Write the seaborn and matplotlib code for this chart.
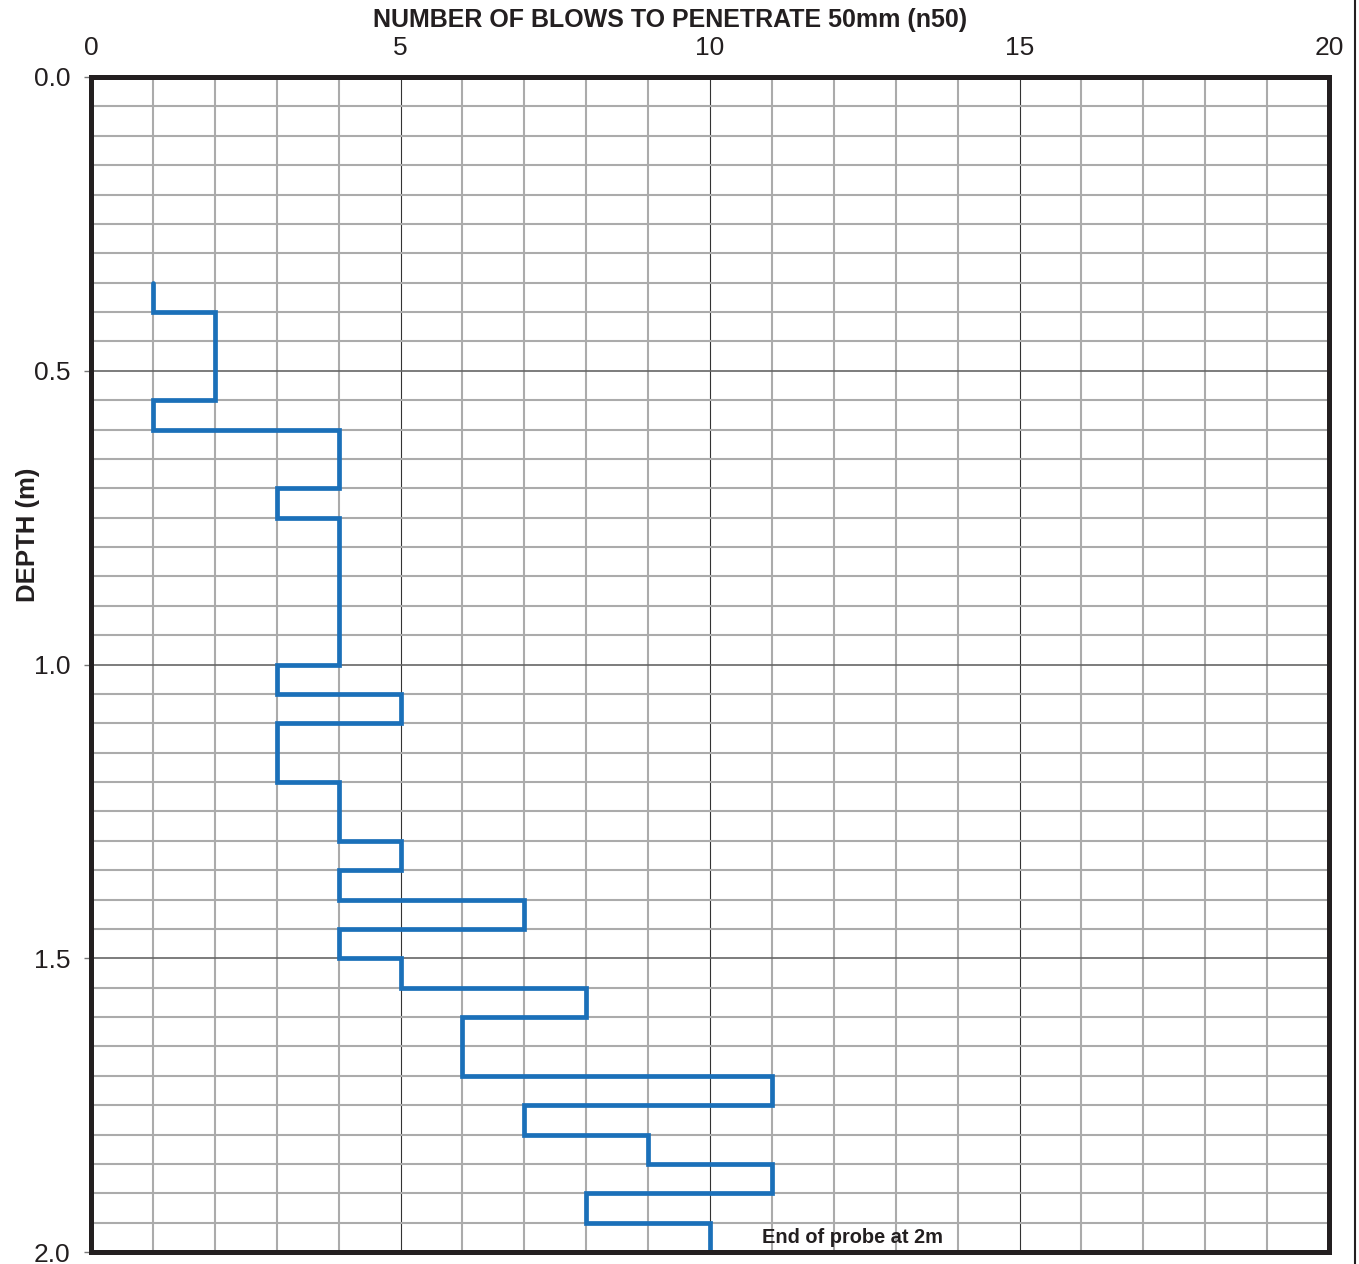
import numpy as np
import pandas as pd
import matplotlib
matplotlib.use("Agg")
import matplotlib.pyplot as plt
from matplotlib.lines import Line2D
import seaborn as sns

# Probe readings: top of each 50mm interval (m) and blows counted in it
depth_top = [0.35, 0.40, 0.45, 0.50, 0.55, 0.60, 0.65, 0.70, 0.75, 0.80,
             0.85, 0.90, 0.95, 1.00, 1.05, 1.10, 1.15, 1.20, 1.25, 1.30,
             1.35, 1.40, 1.45, 1.50, 1.55, 1.60, 1.65, 1.70, 1.75, 1.80,
             1.85, 1.90, 1.95]
blows = [1, 2, 2, 2, 1, 4, 4, 3, 4, 4,
         4, 4, 4, 3, 5, 3, 3, 4, 4, 5,
         4, 7, 4, 5, 8, 6, 6, 11, 7, 9,
         11, 8, 10]
interval = 0.05

x_ticks = [0, 5, 10, 15, 20]
y_ticks = [0.0, 0.5, 1.0, 1.5, 2.0]

# build step vertices (vertical segment for each interval)
rows = []
for d, n in zip(depth_top, blows):
    rows.append({"n50": n, "depth": d})
    rows.append({"n50": n, "depth": d + interval})
df = pd.DataFrame(rows)

sns.set_style("white")
plt.rcParams["font.family"] = ["Liberation Sans", "DejaVu Sans"]

fig = plt.figure(figsize=(13.59, 12.64), dpi=100)
ax = fig.add_axes([91 / 1359, 1 - 1252 / 1264, (1329 - 91) / 1359, (1252 - 77) / 1264])

# grid
for x in range(1, 20):
    major = x % 5 == 0
    ax.axvline(x, color="#333333" if major else "#ababab",
               lw=0.8 if major else 1.5, zorder=1)
for y in np.arange(0.05, 2.0, 0.05):
    major = abs(y * 2 - round(y * 2)) < 1e-6
    ax.axhline(y, color="#666666" if major else "#ababab",
               lw=1.2 if major else 1.5, zorder=1)

sns.lineplot(data=df, x="n50", y="depth", sort=False, estimator=None,
             color="#1b70b9", lw=3.4, ax=ax, zorder=3,
             solid_joinstyle="miter")

ax.set_xlim(0, 20)
ax.set_ylim(2.0, 0.0)
ax.xaxis.tick_top()
ax.xaxis.set_label_position("top")
ax.set_xticks(x_ticks)
ax.set_yticks(y_ticks)
ax.set_yticklabels([f"{v:.1f}" for v in y_ticks])
ax.tick_params(axis="both", labelsize=19, colors="#231f20")
ax.tick_params(axis="y", length=5, width=1, color="#777777", pad=10, left=True)
ax.tick_params(axis="x", length=0, pad=12)

ax.set_xlabel("NUMBER OF BLOWS TO PENETRATE 50mm (n50)", fontsize=18,
              fontweight="bold", color="#231f20")
ax.xaxis.set_label_coords(0.4677, 1.0425)
ax.set_ylabel("DEPTH (m)", fontsize=18.5, fontweight="bold", color="#231f20")
ax.yaxis.set_label_coords(-0.041, 0.61)

for s in ax.spines.values():
    s.set_visible(True)
    s.set_color("#231f20")
    s.set_linewidth(3.6)
    s.set_zorder(4)

ax.text(12.3, 1.975, "End of probe at 2m", fontsize=14.4, fontweight="bold",
        color="#231f20", ha="center", va="center", zorder=5)

# thin frame line at the right edge of the sheet
fig.add_artist(Line2D([1355 / 1359, 1355 / 1359], [0, 1], color="#231f20", lw=1.5,
                      transform=fig.transFigure))

fig.savefig("out.png", dpi=100)
